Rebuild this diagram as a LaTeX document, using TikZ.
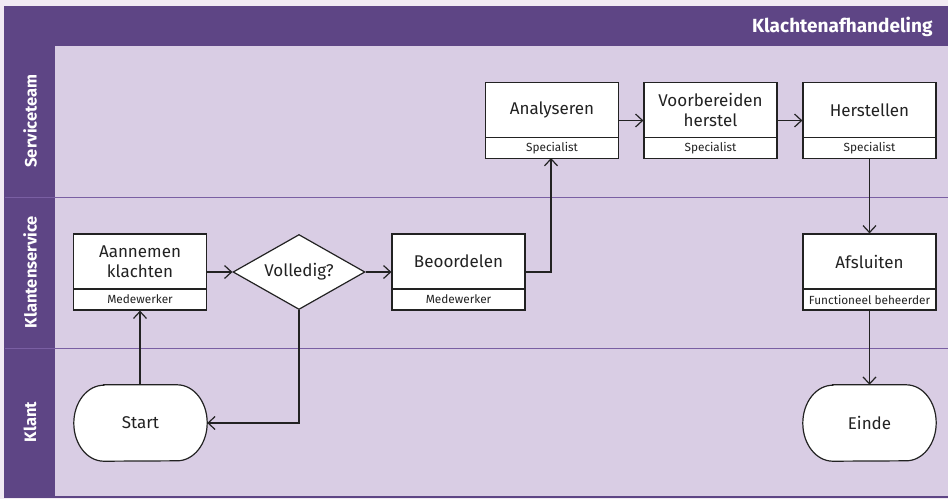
\documentclass[tikz,border=0pt]{standalone}
\usepackage{fontspec}
\setmainfont{Fira Sans}
\usetikzlibrary{arrows.meta,shapes.geometric,calc}
\definecolor{hdr}{HTML}{5E4585}
\definecolor{lanebg}{HTML}{D9CDE4}
\definecolor{outerbg}{HTML}{F1EAF3}
\definecolor{laneline}{HTML}{7A5FA3}
\definecolor{ink}{HTML}{222222}
\tikzset{
  box/.style={draw=ink, fill=white, line width=1.2pt, minimum width=133pt, minimum height=76pt, inner sep=0pt},
  maintext/.style={text=ink, font=\fontsize{17}{20.5}\selectfont, align=center, inner sep=0pt},
  roletext/.style={draw=ink, fill=white, line width=1.2pt, text=ink, font=\fontsize{11.8}{13}\selectfont, minimum width=133pt, minimum height=21pt, inner sep=0pt, anchor=south},
  decision/.style={diamond, aspect=1.76, draw=ink, fill=white, line width=1.2pt, minimum width=132pt, minimum height=75pt, inner sep=0pt, text=ink, font=\fontsize{17}{20.5}\selectfont},
  terminal/.style={rectangle, minimum width=133pt, minimum height=76pt, inner sep=0pt, text=ink, font=\fontsize{17}{20.5}\selectfont},
  termshape/.style={draw=ink, fill=white, line width=1.2pt},
  flow/.style={draw=ink, line width=1.2pt, -{Straight Barb[length=7pt,width=13pt,line width=1.2pt]}},
  lanelabel/.style={text=white, font=\bfseries\fontsize{16.5}{18}\selectfont, rotate=90},
  laneline/.style={draw=laneline, line width=0.8pt}
}
\newcommand\drawterminal[2]{%
  \node[terminal] (#1) at (#2) {};
  \filldraw[termshape] ($(#1.north west)+(30,0)$) -- ($(#1.north east)+(-30,0)$)
     arc[start angle=90,end angle=-90,x radius=30pt,y radius=38pt]
     -- ($(#1.south west)+(30,0)$)
     arc[start angle=270,end angle=90,x radius=30pt,y radius=38pt] -- cycle;
}
\begin{document}
\begin{tikzpicture}[x=1pt,y=-1pt]
\useasboundingbox (0,0) rectangle (948,499);
\fill[outerbg] (0,0) rectangle (948,499);
% header
\fill[hdr] (4,6) rectangle (948,46);
\node[text=white, font=\bfseries\fontsize{19}{21}\selectfont, anchor=east] (title) at (936,27) {Klachtenafhandeling};
% lanes
\fill[lanebg] (55,46) rectangle (948,497);
\fill[hdr] (4,46) rectangle (55,497);
\draw[laneline] (55,197) -- (948,197);
\draw[laneline] (55,348) -- (948,348);
\draw[laneline] (5,197) -- (55,197);
\draw[laneline] (5,348) -- (55,348);
\draw[hdr, line width=1.5pt] (4,497) -- (948,497);
\node[lanelabel] (l1) at (30,121) {Serviceteam};
\node[lanelabel] (l2) at (30,272) {Klantenservice};
\node[lanelabel] (l3) at (30,422) {Klant};
% nodes
\node[box] (ann) at (140,272) {};
\node[roletext] (annR) at (ann.south) {Medewerker};
\node[maintext] (annT) at (140,261.5) {Aannemen\\klachten};

\node[decision] (vol) at (299,272) {Volledig?};

\node[box] (beo) at (458.5,272) {};
\node[roletext] (beoR) at (beo.south) {Medewerker};
\node[maintext] (beoT) at (458.5,261.5) {Beoordelen};

\node[box] (ana) at (552,120.5) {};
\node[roletext] (anaR) at (ana.south) {Specialist};
\node[maintext] (anaT) at (552,110) {Analyseren};

\node[box] (voo) at (710.5,120.5) {};
\node[roletext] (vooR) at (voo.south) {Specialist};
\node[maintext] (vooT) at (710.5,110) {Voorbereiden\\herstel};

\node[box] (her) at (869.5,120.5) {};
\node[roletext] (herR) at (her.south) {Specialist};
\node[maintext] (herT) at (869.5,110) {Herstellen};

\node[box] (afs) at (869.5,272) {};
\node[roletext] (afsR) at (afs.south) {Functioneel beheerder};
\node[maintext] (afsT) at (869.5,261.5) {Afsluiten};

\drawterminal{start}{140.5,423}
\node[maintext] (startT) at (start.center) {Start};
\drawterminal{einde}{869.5,423}
\node[maintext] (eindeT) at (einde.center) {Einde};

% connectors
\draw[flow] (start.north -| ann.south) -- (ann.south);
\draw[flow] (ann.east) -- (vol.west);
\draw[flow] (vol.east) -- (beo.west);
\draw[flow] (vol.south) |- (start.east);
\draw[flow] (beo.east) -| (551,158);
\draw[flow] (ana.east) -- (voo.west);
\draw[flow] (voo.east) -- (her.west);
\draw[flow] (her.south) -- (afs.north);
\draw[flow] (afs.south) -- (einde.north);
\end{tikzpicture}
\end{document}
